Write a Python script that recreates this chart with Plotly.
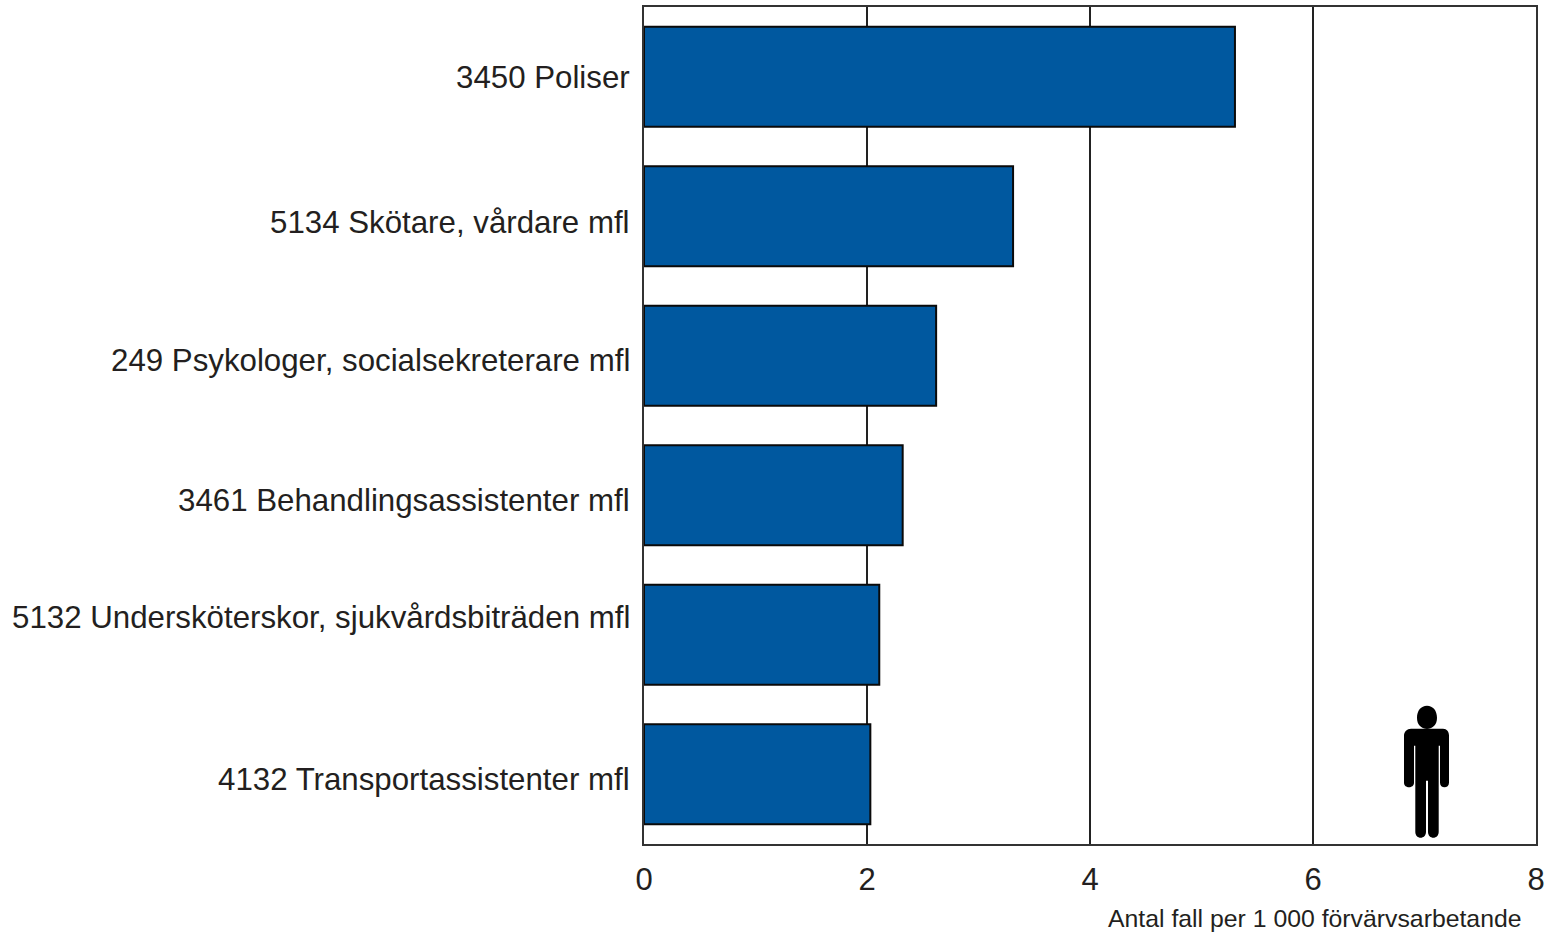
import plotly.graph_objects as go

categories = ["3450 Poliser", "5134 Skötare, vårdare mfl", "249 Psykologer, socialsekreterare mfl",
              "3461 Behandlingsassistenter mfl", "5132 Undersköterskor, sjukvårdsbiträden mfl",
              "4132 Transportassistenter mfl"]
values = [5.3, 3.31, 2.62, 2.32, 2.11, 2.03]
x_ticks = [0, 2, 4, 6, 8]
x_title = "Antal fall per 1 000 förvärvsarbetande"
label_nudges_down = [1, 6, 5, 5, -17, 5]

W, H = 1562, 933
L, R, T, B = 644, 26, 6.7, 88.7
FONT = "Liberation Sans, Arial, sans-serif"
TXT = "#231f20"


def px(x):
    return (x - L) / (W - L - R)


def py(y):
    return 1 - (y - T) / (H - T - B)


def person():
    def P(x, y):
        return f"{px(x):.5f},{py(y):.5f}"
    head = [f"M{P(1417,718)}", f"C{P(1417,711)} {P(1421,706)} {P(1427,706)}",
            f"C{P(1433,706)} {P(1437,711)} {P(1437,718)}",
            f"C{P(1437,725)} {P(1433,729)} {P(1427,729)}",
            f"C{P(1421,729)} {P(1417,725)} {P(1417,718)}Z"]
    body = [f"M{P(1411,729)}", f"L{P(1443,729)}", f"C{P(1447,729)} {P(1449,732)} {P(1449,736)}",
            f"L{P(1449,783)}", f"C{P(1449,789)} {P(1440,789)} {P(1440,783)}",
            f"L{P(1440,746)}", f"L{P(1438.7,746)}", f"L{P(1438.7,832)}",
            f"C{P(1438.7,840)} {P(1428,840)} {P(1428,832)}", f"L{P(1428,781)}", f"L{P(1426,781)}",
            f"L{P(1426,832)}", f"C{P(1426,840)} {P(1415.3,840)} {P(1415.3,832)}",
            f"L{P(1415.3,746)}", f"L{P(1414,746)}", f"L{P(1414,783)}",
            f"C{P(1414,789)} {P(1404,789)} {P(1404,783)}", f"L{P(1404,736)}",
            f"C{P(1404,732)} {P(1407,729)} {P(1411,729)}Z"]
    return " ".join(head + body)


fig = go.Figure(go.Bar(
    x=values, y=categories, orientation="h", width=0.716,
    marker=dict(color="#00589f", line=dict(color="#0a0a0a", width=2)),
    hoverinfo="x+y",
))

annotations = [dict(text=c, x=0, y=c, xref="paper", yref="y", xanchor="right", yanchor="middle",
                    xshift=-12, yshift=-n, showarrow=False, font=dict(family=FONT, size=31.25, color=TXT))
               for c, n in zip(categories, label_nudges_down)]
annotations.append(dict(text=x_title, x=1, y=0, xref="paper", yref="paper", xanchor="right", yanchor="middle",
                        xshift=-12, yshift=-74, showarrow=False, font=dict(family=FONT, size=24.8, color=TXT)))

fig.update_layout(
    width=W, height=H, autosize=False,
    margin=dict(l=L, r=R, t=T, b=B, pad=0),
    plot_bgcolor="white", paper_bgcolor="white", showlegend=False,
    bargap=0.28,
    xaxis=dict(range=[0, 8], tickvals=x_ticks, showgrid=True, gridcolor="#222222", gridwidth=2, zeroline=False,
               showline=True, linecolor="#333333", linewidth=1.5, mirror=True, ticks="outside",
               ticklen=7, tickcolor="rgba(0,0,0,0)", tickfont=dict(family=FONT, size=31, color=TXT)),
    yaxis=dict(range=[5.5, -0.5], type="category", categoryorder="array", categoryarray=categories,
               showticklabels=False, showgrid=False, zeroline=False, showline=True, linecolor="#333333",
               linewidth=1.5, mirror=True, ticks=""),
    annotations=annotations,
    shapes=[dict(type="path", path=person(), xref="paper", yref="paper", fillcolor="black",
                 line=dict(width=0), layer="above")],
)
fig.write_html("out.html", config={"displayModeBar": False},
               post_script="document.body.style.margin='0';")
